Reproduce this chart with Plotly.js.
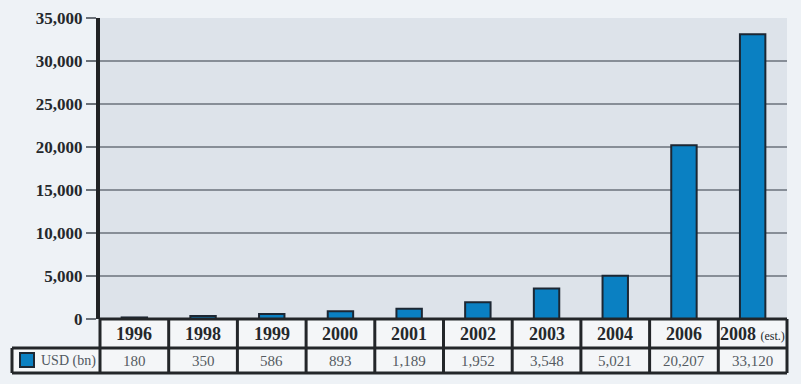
<!DOCTYPE html>
<html>
<head>
<meta charset="utf-8">
<script src="https://cdn.plot.ly/plotly-3.0.1.min.js"></script>
<style>html,body{margin:0;padding:0;background:#eef2f6;}</style>
</head>
<body>
<div id="chart" style="width:801px;height:384px;"></div>
<script>
const categories = ["1996","1998","1999","2000","2001","2002","2003","2004","2006","2008"];
const categoryLabels = ["1996","1998","1999","2000","2001","2002","2003","2004","2006",
  "2008 <span style='font-size:12px;font-weight:normal'>(est.)</span>"];
const seriesName = "USD (bn)";
const usdBn = [180, 350, 586, 893, 1189, 1952, 3548, 5021, 20207, 33120];
const yTicks = [0, 5000, 10000, 15000, 20000, 25000, 30000, 35000];

const W = 801, H = 384;
const L = 100, R = 787, T = 18, B = 319;
const pw = R - L, ph = B - T;
const py = v => (B - v) / ph;      // pixel y -> paper y
const px = v => (v - L) / pw;      // pixel x -> paper x

const shapes = [];
const annotations = [];
const n = categories.length;
const rowTop = 319, rowMid = 348, rowBot = 373, legLeft = 12;
const border = {color: '#232629', width: 3};

// cell backgrounds
shapes.push({type:'rect', xref:'paper', yref:'paper', x0:0, x1:1, y0:py(rowMid), y1:py(rowTop),
  fillcolor:'#f4f6f8', line:{width:0}, layer:'below'});
shapes.push({type:'rect', xref:'paper', yref:'paper', x0:px(legLeft), x1:1, y0:py(rowBot), y1:py(rowMid),
  fillcolor:'#f4f6f8', line:{width:0}, layer:'below'});
// horizontal borders
shapes.push({type:'line', xref:'paper', yref:'paper', x0:0, x1:1, y0:py(rowTop), y1:py(rowTop), line:border});
shapes.push({type:'line', xref:'paper', yref:'paper', x0:px(legLeft), x1:1, y0:py(rowMid), y1:py(rowMid), line:border});
shapes.push({type:'line', xref:'paper', yref:'paper', x0:px(legLeft), x1:1, y0:py(rowBot), y1:py(rowBot), line:border});
// vertical borders
for (let k = 0; k <= n; k++) {
  shapes.push({type:'line', xref:'paper', yref:'paper', x0:k/n, x1:k/n, y0:py(rowBot), y1:py(rowTop), line:border});
}
shapes.push({type:'line', xref:'paper', yref:'paper', x0:px(legLeft), x1:px(legLeft), y0:py(rowBot), y1:py(rowMid), line:border});
// legend swatch
shapes.push({type:'rect', xref:'paper', yref:'paper', x0:px(20), x1:px(34), y0:py(367), y1:py(353),
  fillcolor:'#0a80c2', line:{color:'#1c2733', width:2}});
annotations.push({xref:'paper', yref:'paper', x:px(39), y:py(360.5), xanchor:'left', yanchor:'middle',
  text:seriesName, showarrow:false, font:{family:'Liberation Serif, serif', size:14, color:'#505860'}});

// header and value rows, placed through the x axis (category index)
categories.forEach((c, i) => {
  annotations.push({xref:'x', yref:'paper', x:i, y:py(360.5), xanchor:'center', yanchor:'middle',
    text:usdBn[i].toLocaleString('en-US'), showarrow:false,
    font:{family:'Liberation Serif, serif', size:15, color:'#555b62'}});
  annotations.push({xref:'x', yref:'paper', x:i, y:py(334), xanchor:'center', yanchor:'middle',
    text:'<b>' + categoryLabels[i] + '</b>', showarrow:false,
    font:{family:'Liberation Serif, serif', size:18, color:'#25282c'}});
});

const trace = {
  type:'bar', x:categories, y:usdBn, name:seriesName,
  marker:{color:'#0a80c2', line:{color:'#1c2733', width:2}},
  hoverinfo:'skip'
};

const layout = {
  width:W, height:H,
  margin:{l:L, r:W-R, t:T, b:H-B, pad:0},
  paper_bgcolor:'#eef2f6', plot_bgcolor:'#dde3ea',
  showlegend:false, bargap:0.63,
  xaxis:{type:'category', range:[-0.5, n-0.5], showticklabels:false, ticks:'', showgrid:false,
    zeroline:false, showline:false, fixedrange:true},
  yaxis:{range:[0, 35000], tickvals:yTicks, tickformat:',', ticks:'outside', ticklen:10, tickwidth:2,
    tickcolor:'#6b7178', showgrid:true, gridcolor:'#878e97', gridwidth:2, zeroline:false,
    showline:true, linecolor:'#202224', linewidth:4,
    tickfont:{family:'Liberation Serif, serif', size:17, color:'#25282c', weight:'bold'}},
  shapes:shapes, annotations:annotations
};

Plotly.newPlot('chart', [trace], layout, {staticPlot:true, displayModeBar:false});
</script>
</body>
</html>
